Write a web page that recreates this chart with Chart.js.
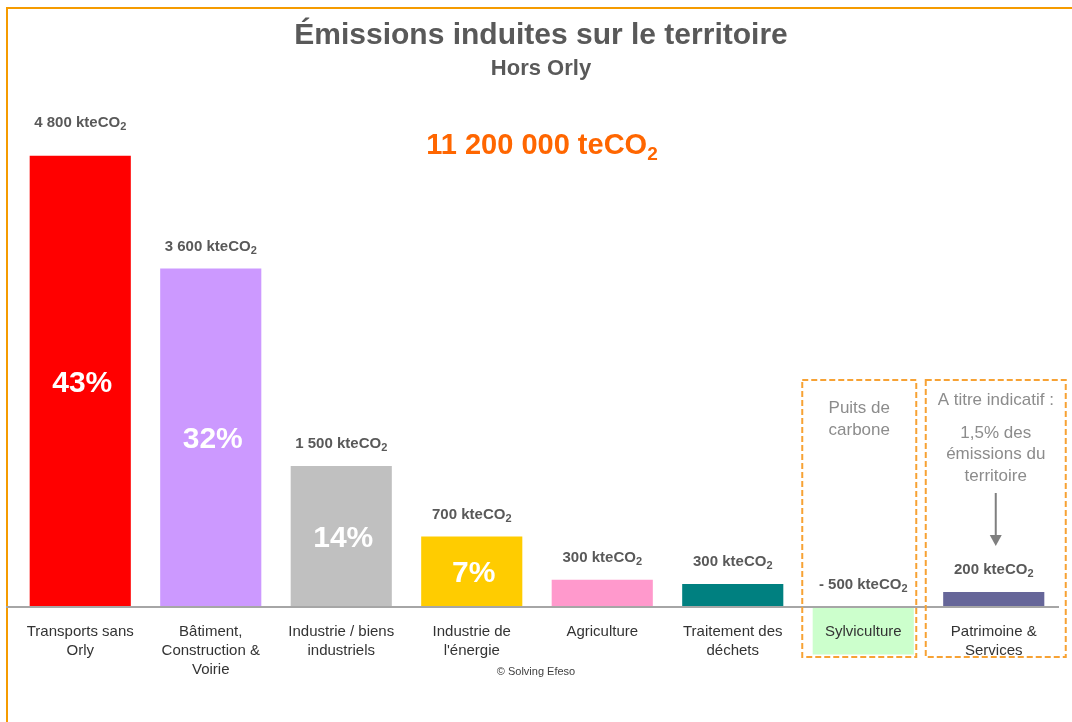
<!DOCTYPE html>
<html>
<head>
<meta charset="utf-8">
<script src="https://cdn.jsdelivr.net/npm/chart.js@4"></script>
<style>
  body { margin: 0; background: #fff; }
  #wrap { width: 1072px; height: 722px; position: relative; }
</style>
</head>
<body>
<div id="wrap"><canvas id="chart" width="1072" height="722"></canvas></div>
<script>
// categories (multi-line labels)
const categories = [
    ['Transports sans', 'Orly'],
    ['Bâtiment,', 'Construction &', 'Voirie'],
    ['Industrie / biens', 'industriels'],
    ['Industrie de', "l'énergie"],
    ['Agriculture'],
    ['Traitement des', 'déchets'],
    ['Sylviculture'],
    ['Patrimoine &', 'Services']
];
// bar heights as drawn (kteCO2)
const emissions = [4800, 3600, 1500, 750, 290, 245, -505, 160];
// printed value labels
const valueLabels = ['4 800', '3 600', '1 500', '700', '300', '300', '- 500', '200'];
const shareLabels = ['43%', '32%', '14%', '7%', '', '', '', ''];
const barColors = ['#ff0000', '#cc99ff', '#c0c0c0', '#ffcc00', '#ff99cc', '#008080', '#ccffcc', '#666699'];

const FONT = "'Liberation Sans', Arial, sans-serif";

// draws "main" + subscript, centred on x
function textWithSub(ctx, main, sub, x, y, size, bold, color, ratio) {
    const w = bold ? 'bold ' : '';
    const subSize = Math.round(size * ratio);
    ctx.font = w + size + 'px ' + FONT;
    const mw = ctx.measureText(main).width;
    ctx.font = w + subSize + 'px ' + FONT;
    const sw = ctx.measureText(sub).width;
    const start = x - (mw + sw) / 2;
    ctx.fillStyle = color;
    ctx.textAlign = 'left';
    ctx.textBaseline = 'alphabetic';
    ctx.font = w + size + 'px ' + FONT;
    ctx.fillText(main, start, y);
    ctx.font = w + subSize + 'px ' + FONT;
    ctx.fillText(sub, start + mw, y + size * 0.22);
}

function centerText(ctx, txt, x, y, font, color) {
    ctx.font = font;
    ctx.fillStyle = color;
    ctx.textAlign = 'center';
    ctx.textBaseline = 'alphabetic';
    ctx.fillText(txt, x, y);
}

const decorations = {
    id: 'decorations',
    beforeDraw(chart) {
        const ctx = chart.ctx;
        ctx.save();
        // orange frame
        ctx.strokeStyle = '#f59b00';
        ctx.lineWidth = 2;
        ctx.beginPath();
        ctx.moveTo(7, 722);
        ctx.lineTo(7, 8);
        ctx.lineTo(1072, 8);
        ctx.stroke();
        ctx.restore();
    },
    afterDatasetsDraw(chart) {
        const ctx = chart.ctx;
        const x = chart.scales.x;
        const y = chart.scales.y;
        const zero = y.getPixelForValue(0);
        const meta = chart.getDatasetMeta(0);
        ctx.save();

        // baseline
        ctx.strokeStyle = '#a6a6a6';
        ctx.lineWidth = 2;
        ctx.beginPath();
        ctx.moveTo(6, zero);
        ctx.lineTo(x.right, zero);
        ctx.stroke();

        // titles
        centerText(ctx, 'Émissions induites sur le territoire', 541, 44, 'bold 30px ' + FONT, '#595959');
        centerText(ctx, 'Hors Orly', 541, 75, 'bold 22px ' + FONT, '#595959');
        textWithSub(ctx, '11 200 000 teCO', '2', 542, 154, 29, true, '#ff6600', 0.65);

        // value + share labels
        meta.data.forEach((bar, i) => {
            const top = emissions[i] >= 0 ? bar.y : zero;
            const off = i === 0 ? 29 : 18;
            textWithSub(ctx, valueLabels[i] + ' kteCO', '2', bar.x, top - off, 15, true, '#595959', 0.72);
            if (shareLabels[i]) {
                ctx.font = 'bold 30px ' + FONT;
                ctx.fillStyle = '#ffffff';
                ctx.textAlign = 'center';
                ctx.textBaseline = 'middle';
                ctx.fillText(shareLabels[i], bar.x + 2, (bar.y + zero) / 2 + 2);
            }
        });

        // category labels
        categories.forEach((lines, i) => {
            const cx = x.getPixelForValue(i);
            lines.forEach((ln, k) => {
                centerText(ctx, ln, cx, zero + 29 + k * 19, '15px ' + FONT, '#333333');
            });
        });

        centerText(ctx, '© Solving Efeso', 536, 675, '11px ' + FONT, '#404040');

        // dashed boxes
        const c6 = x.getPixelForValue(6);
        const c7 = x.getPixelForValue(7);
        ctx.strokeStyle = '#f7a234';
        ctx.lineWidth = 2;
        ctx.setLineDash([6, 3]);
        ctx.strokeRect(c6 - 61, 380, 114, 277);
        ctx.strokeRect(c7 - 68, 380, 140, 277);
        ctx.setLineDash([]);

        const gray = '#8c8c8c';
        centerText(ctx, 'Puits de', c6 - 4, 413, '17px ' + FONT, gray);
        centerText(ctx, 'carbone', c6 - 4, 435, '17px ' + FONT, gray);
        centerText(ctx, 'A titre indicatif :', c7 + 2, 405, '17px ' + FONT, gray);
        centerText(ctx, '1,5% des', c7 + 2, 438, '17px ' + FONT, gray);
        centerText(ctx, 'émissions du', c7 + 2, 459, '17px ' + FONT, gray);
        centerText(ctx, 'territoire', c7 + 2, 481, '17px ' + FONT, gray);

        // arrow
        ctx.strokeStyle = '#7f7f7f';
        ctx.fillStyle = '#7f7f7f';
        ctx.lineWidth = 2;
        ctx.beginPath();
        ctx.moveTo(c7 + 2, 493);
        ctx.lineTo(c7 + 2, 536);
        ctx.stroke();
        ctx.beginPath();
        ctx.moveTo(c7 - 4, 535);
        ctx.lineTo(c7 + 8, 535);
        ctx.lineTo(c7 + 2, 546);
        ctx.closePath();
        ctx.fill();

        ctx.restore();
    }
};

new Chart(document.getElementById('chart'), {
    type: 'bar',
    data: {
        labels: categories,
        datasets: [{
            data: emissions,
            backgroundColor: barColors,
            borderWidth: 0,
            barPercentage: 0.775,
            categoryPercentage: 1
        }]
    },
    options: {
        responsive: false,
        animation: false,
        layout: { padding: { left: 15, right: 13, top: 43, bottom: 21 } },
        plugins: {
            legend: { display: false },
            tooltip: { enabled: false }
        },
        scales: {
            x: { display: false },
            y: { display: false, min: -1000, max: 6000 }
        }
    },
    plugins: [decorations]
});
</script>
</body>
</html>
